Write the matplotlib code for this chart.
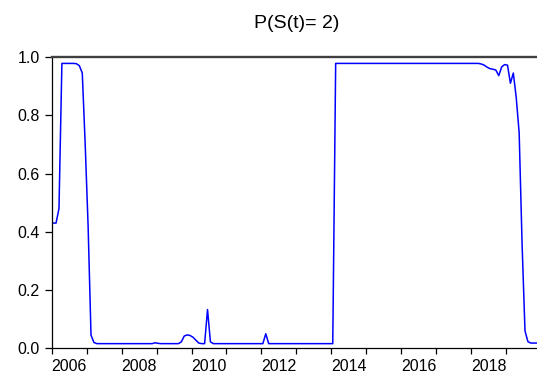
import numpy as np
import matplotlib
matplotlib.use("Agg")
import matplotlib.pyplot as plt
from matplotlib.ticker import FixedLocator, NullFormatter, FixedFormatter

plt.rcParams["font.family"] = ["Liberation Sans", "DejaVu Sans"]

# monthly smoothed probabilities P(S(t)=2), Jan 2006 .. Nov 2019
y2006 = [0.430, 0.430, 0.480, 0.978, 0.978, 0.978, 0.978, 0.978, 0.977, 0.970, 0.945, 0.700]
y2007 = [0.420, 0.045, 0.020, 0.016, 0.016, 0.016, 0.016, 0.016, 0.016, 0.016, 0.016, 0.016]
y2008 = [0.016, 0.016, 0.016, 0.016, 0.016, 0.016, 0.016, 0.016, 0.016, 0.016, 0.016, 0.019]
y2009 = [0.017, 0.016, 0.016, 0.016, 0.016, 0.016, 0.016, 0.016, 0.022, 0.042, 0.046, 0.044]
y2010 = [0.038, 0.028, 0.018, 0.016, 0.016, 0.133, 0.022, 0.016, 0.016, 0.016, 0.016, 0.016]
y2011 = [0.016, 0.016, 0.016, 0.016, 0.016, 0.016, 0.016, 0.016, 0.016, 0.016, 0.016, 0.016]
y2012 = [0.016, 0.050, 0.016, 0.016, 0.016, 0.016, 0.016, 0.016, 0.016, 0.016, 0.016, 0.016]
y2013 = [0.016, 0.016, 0.016, 0.016, 0.016, 0.016, 0.016, 0.016, 0.016, 0.016, 0.016, 0.016]
y2014 = [0.016, 0.978, 0.978, 0.978, 0.978, 0.978, 0.978, 0.978, 0.978, 0.978, 0.978, 0.978]
y2015 = [0.978, 0.978, 0.978, 0.978, 0.978, 0.978, 0.978, 0.978, 0.978, 0.978, 0.978, 0.978]
y2016 = [0.978, 0.978, 0.978, 0.978, 0.978, 0.978, 0.978, 0.978, 0.978, 0.978, 0.978, 0.978]
y2017 = [0.978, 0.978, 0.978, 0.978, 0.978, 0.978, 0.978, 0.978, 0.978, 0.978, 0.978, 0.978]
y2018 = [0.978, 0.978, 0.978, 0.976, 0.972, 0.965, 0.960, 0.958, 0.955, 0.936, 0.966, 0.974]
y2019 = [0.972, 0.910, 0.945, 0.860, 0.740, 0.360, 0.060, 0.023, 0.018, 0.018, 0.018]

prob = np.array(y2006 + y2007 + y2008 + y2009 + y2010 + y2011 + y2012 + y2013
                + y2014 + y2015 + y2016 + y2017 + y2018 + y2019)
t = 2006 + (np.arange(len(prob)) + 0.5) / 12.0

years = list(range(2006, 2020))
label_years = [2006, 2008, 2010, 2012, 2014, 2016, 2018]

fig = plt.figure(figsize=(5.37, 3.76), dpi=100)
ax = fig.add_axes([51.7 / 537, 1 - 348.3 / 376, 1 - 51.7 / 537, (348.3 - 57) / 376])

ax.plot(t, prob, color="#0000ff", linewidth=1.1)

ax.set_xlim(2006, 2006 + (537 - 51.7) / 34.95)
ax.set_ylim(0, 1.0)

# year ticks, labels centred inside every other year
ax.xaxis.set_major_locator(FixedLocator(years))
ax.xaxis.set_major_formatter(NullFormatter())
ax.xaxis.set_minor_locator(FixedLocator([y + 0.5 for y in label_years]))
ax.xaxis.set_minor_formatter(FixedFormatter([str(y) for y in label_years]))
ax.tick_params(axis="x", which="major", direction="out", length=4.5, width=0.9, color="black")
ax.tick_params(axis="x", which="minor", length=0, pad=7.5, labelsize=11.5)

ax.set_yticks([0.0, 0.2, 0.4, 0.6, 0.8, 1.0])
ax.set_yticklabels(["0.0", "0.2", "0.4", "0.6", "0.8", "1.0"])
ax.tick_params(axis="y", direction="out", length=5, width=0.9, color="black", pad=3.5, labelsize=11.5)

ax.spines["right"].set_visible(False)
ax.spines["top"].set_color("#404040")
ax.spines["top"].set_linewidth(1.7)
ax.spines["left"].set_linewidth(0.9)
ax.spines["bottom"].set_linewidth(0.9)

fig.text(297 / 537, 1 - 24 / 376, "P(S(t)= 2)", ha="center", va="center", fontsize=14)

fig.savefig("out.png", dpi=100)
